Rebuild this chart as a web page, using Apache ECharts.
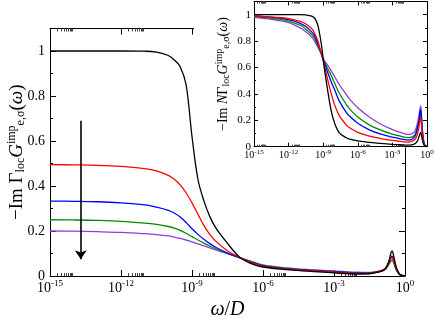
<!doctype html>
<html>
<head>
<meta charset="utf-8">
<title>Im G imp</title>
<script src="https://cdn.jsdelivr.net/npm/echarts@6/dist/echarts.min.js"></script>
<style>
  html, body { margin: 0; padding: 0; background: #fff; }
  #chart { width: 436px; height: 320px; }
</style>
</head>
<body>
<div id="chart"></div>
<script>
// ---- main panel: x is log10(omega/D) ----
var mainLogW = [-15, -14, -13, -12, -11, -10.5, -10, -9.75, -9.5, -9.25, -9, -8.75, -8.5, -8.25, -8,
  -7.5, -7, -6.5, -6, -5, -4, -3, -2, -1.5, -1.1, -0.85, -0.7, -0.6, -0.55, -0.5, -0.42, -0.32, -0.2, 0];
var mainBlack = [1, 1, 1, 1, 0.999, 0.995, 0.98, 0.96, 0.93, 0.85, 0.62, 0.43, 0.335, 0.265, 0.215,
  0.145, 0.085, 0.055, 0.04, 0.028, 0.021, 0.014, 0.009, 0.01, 0.018, 0.03, 0.06, 0.1, 0.112, 0.1, 0.06, 0.025, 0.006, 0];
var mainRed = [0.495, 0.494, 0.492, 0.487, 0.477, 0.467, 0.447, 0.43, 0.405, 0.37, 0.325, 0.275, 0.225, 0.185, 0.155,
  0.112, 0.083, 0.059, 0.043, 0.031, 0.024, 0.017, 0.012, 0.012, 0.02, 0.03, 0.055, 0.078, 0.082, 0.074, 0.045, 0.02, 0.005, 0];
var mainBlue = [0.333, 0.332, 0.33, 0.325, 0.316, 0.306, 0.292, 0.28, 0.262, 0.238, 0.21, 0.185, 0.163, 0.144, 0.128,
  0.102, 0.082, 0.062, 0.045, 0.032, 0.025, 0.019, 0.014, 0.013, 0.02, 0.03, 0.055, 0.08, 0.088, 0.078, 0.047, 0.02, 0.005, 0];
var mainGreen = [0.25, 0.249, 0.247, 0.243, 0.235, 0.229, 0.22, 0.213, 0.203, 0.19, 0.175, 0.16, 0.146, 0.133, 0.121,
  0.1, 0.082, 0.064, 0.047, 0.034, 0.026, 0.02, 0.015, 0.014, 0.02, 0.028, 0.048, 0.065, 0.07, 0.064, 0.04, 0.018, 0.005, 0];
var mainPurple = [0.2, 0.199, 0.197, 0.194, 0.188, 0.184, 0.178, 0.173, 0.167, 0.16, 0.152, 0.143, 0.134, 0.125, 0.116,
  0.099, 0.082, 0.065, 0.049, 0.036, 0.028, 0.022, 0.017, 0.016, 0.022, 0.032, 0.058, 0.082, 0.088, 0.08, 0.05, 0.022, 0.006, 0];

// ---- inset: normalised curves ----
var insetLogW = [-15, -14, -13, -12, -11, -10.5, -10, -9.75, -9.5, -9.3, -9.1, -9, -8.88, -8.6, -8.3, -8, -7.6, -7,
  -6.7, -6, -5, -4, -3, -2.4, -1.6, -1.1, -0.85, -0.7, -0.6, -0.55, -0.5, -0.42, -0.32, -0.2, 0];
var insetBlack = [1, 1, 1, 1, 1, 0.998, 0.99, 0.975, 0.93, 0.85, 0.74, 0.66, 0.58, 0.42, 0.27, 0.175, 0.105, 0.068,
  0.058, 0.044, 0.032, 0.025, 0.018, 0.015, 0.012, 0.02, 0.04, 0.075, 0.1, 0.108, 0.095, 0.06, 0.025, 0.006, 0];
var insetRed = [0.99, 0.986, 0.98, 0.97, 0.95, 0.93, 0.895, 0.86, 0.81, 0.75, 0.69, 0.66, 0.61, 0.505, 0.4, 0.315, 0.235, 0.165,
  0.143, 0.108, 0.08, 0.062, 0.048, 0.042, 0.035, 0.05, 0.09, 0.15, 0.21, 0.22, 0.19, 0.11, 0.045, 0.01, 0];
var insetBlue = [0.99, 0.984, 0.976, 0.963, 0.935, 0.91, 0.87, 0.84, 0.79, 0.745, 0.69, 0.66, 0.63, 0.56, 0.49, 0.43, 0.345, 0.26,
  0.23, 0.178, 0.128, 0.095, 0.072, 0.062, 0.05, 0.07, 0.13, 0.2, 0.265, 0.28, 0.24, 0.14, 0.055, 0.012, 0];
var insetGreen = [0.985, 0.978, 0.968, 0.952, 0.92, 0.89, 0.85, 0.82, 0.775, 0.735, 0.69, 0.66, 0.64, 0.59, 0.54, 0.48, 0.405, 0.32,
  0.285, 0.225, 0.165, 0.125, 0.095, 0.082, 0.068, 0.085, 0.14, 0.195, 0.24, 0.25, 0.22, 0.13, 0.05, 0.012, 0];
var insetPurple = [0.98, 0.97, 0.958, 0.94, 0.9, 0.87, 0.83, 0.8, 0.76, 0.725, 0.685, 0.665, 0.65, 0.615, 0.575, 0.53, 0.47, 0.395,
  0.36, 0.295, 0.225, 0.17, 0.13, 0.11, 0.092, 0.11, 0.17, 0.235, 0.295, 0.31, 0.27, 0.16, 0.065, 0.014, 0];

// tick labels
var xMajor = [-15, -12, -9, -6, -3, 0];
var yMajor = [0, 0.2, 0.4, 0.6, 0.8, 1];
var yMinor = [0.1, 0.3, 0.5, 0.7, 0.9];

// annotation arrows [log10 w, value]
var mainArrow = [[-13.7, 0.69], [-13.7, 0.075]];
var insetArrow = [[-8.78, 0.142], [-4.88, 0.3]];

var colors = ['#8f3fd6', '#008b00', '#0000ff', '#ff0000', '#000000'];
var serif = 'Liberation Serif';

// minor log ticks: 2..9 after each labelled decade
var xMinor = [];
xMajor.slice(0, -1).forEach(function (m) {
  for (var k = 2; k <= 9; k++) xMinor.push(m + Math.log10(k));
});

function pts(xs, ys) {
  return xs.map(function (e, i) { return [Math.pow(10, e), ys[i]]; });
}

var blank = { show: false };

function xAxes(gi, pos, len, minLen, label) {
  var base = { type: 'value', gridIndex: gi, position: pos, min: -15, max: 0, z: gi ? 20 : 0,
    splitLine: blank };
  var major = Object.assign({}, base, {
    axisLine: { show: true, onZero: false, lineStyle: { color: '#000', width: 1 } },
    axisTick: { show: true, inside: true, length: len, customValues: xMajor, lineStyle: { color: '#000' } },
    axisLabel: label ? label : { show: false }
  });
  var minor = Object.assign({}, base, {
    axisLine: { show: false, onZero: false },
    axisTick: { show: true, inside: true, length: minLen, customValues: xMinor, lineStyle: { color: '#444' } },
    axisLabel: { show: false }
  });
  return [major, minor];
}

function yAxes(gi, pos, len, minLen, label) {
  var base = { type: 'value', gridIndex: gi, position: pos, min: 0, max: 1.1, z: gi ? 20 : 0,
    splitLine: blank };
  var major = Object.assign({}, base, {
    axisLine: { show: true, onZero: false, lineStyle: { color: '#000', width: 1 } },
    axisTick: { show: true, inside: true, length: len, customValues: yMajor, lineStyle: { color: '#000' } },
    axisLabel: label ? label : { show: false }
  });
  var minor = Object.assign({}, base, {
    axisLine: { show: false, onZero: false },
    axisTick: { show: true, inside: true, length: minLen, customValues: yMinor, lineStyle: { color: '#000' } },
    axisLabel: { show: false }
  });
  return [major, minor];
}

function expLabel(size, supSize, margin) {
  return {
    show: true, margin: margin, customValues: xMajor, color: '#000', fontFamily: serif, fontSize: size,
    formatter: function (v) { return '10{s|' + v + '}'; },
    rich: { s: { fontFamily: serif, fontSize: supSize, color: '#000', padding: [0, 0, supSize, 0] } }
  };
}

function numLabel(size, margin) {
  return { show: true, margin: margin, customValues: yMajor, color: '#000', fontFamily: serif, fontSize: size };
}

var mainX = [{ type: 'log', gridIndex: 0, min: 1e-15, max: 1, show: false }]
  .concat(xAxes(0, 'bottom', 6, 3, expLabel(14, 9, 3)), xAxes(0, 'top', 6, 3, null));
var insetX = [{ type: 'log', gridIndex: 1, min: 1e-15, max: 1, show: false }]
  .concat(xAxes(1, 'bottom', 4, 2, expLabel(10, 7, 2)), xAxes(1, 'top', 4, 2, null));
var mainY = yAxes(0, 'left', 6, 3, numLabel(14, 5)).concat(yAxes(0, 'right', 6, 3, null));
var insetY = yAxes(1, 'left', 4, 2, numLabel(11, 3)).concat(yAxes(1, 'right', 4, 2, null));

// axis titles
mainX[1].name = '{it|ω}/{it|D}';
mainX[1].nameLocation = 'middle';
mainX[1].nameGap = 17;
mainX[1].nameTextStyle = { fontFamily: serif, fontSize: 20, color: '#000',
  rich: { it: { fontFamily: serif, fontStyle: 'italic', fontSize: 20, color: '#000' } } };

function gName(size, sub, prefix) {
  return {
    text: '−Im ' + prefix + 'Γ{sub|loc}{it|G}{sup|imp}{sub|e,σ}({it|ω})',
    style: { fontFamily: serif, fontSize: size, color: '#000',
      rich: {
        it: { fontFamily: serif, fontStyle: 'italic', fontSize: size, color: '#000' },
        sub: { fontFamily: serif, fontSize: sub, color: '#000', padding: [Math.round(sub * 0.7), 0, 0, 0] },
        sup: { fontFamily: serif, fontSize: sub, color: '#000', padding: [0, 0, Math.round(sub * 0.8), 0] }
      } }
  };
}
var mn = gName(19, 12, '');
mainY[0].name = mn.text;
mainY[0].nameLocation = 'middle';
mainY[0].nameGap = 22;
mainY[0].nameMoveOverlap = false;
mainY[0].nameTextStyle = mn.style;
var inn = gName(14, 10, '{it|N}');
insetY[0].name = inn.text;
insetY[0].nameLocation = 'middle';
insetY[0].nameGap = 22;
insetY[0].nameTextStyle = inn.style;

// axis index bookkeeping: mainX 0..4, insetX 5..9, mainY 0..3, insetY 4..7
function makeSeries(xs, list, xi, yi, z, width) {
  return list.map(function (ys, i) {
    return {
      type: 'line', xAxisIndex: xi, yAxisIndex: yi, z: z,
      data: pts(xs, ys), showSymbol: false, symbol: 'none', smooth: 0.35,
      lineStyle: { color: colors[i], width: width }, itemStyle: { color: colors[i] },
      silent: true, animation: false
    };
  });
}

var series = makeSeries(mainLogW, [mainPurple, mainGreen, mainBlue, mainRed, mainBlack], 0, 0, 2, 1.3)
  .concat(makeSeries(insetLogW, [insetPurple, insetGreen, insetBlue, insetRed, insetBlack], 5, 4, 20, 1.3));

function arrowLine(a, size) {
  return {
    silent: true, animation: false, symbol: ['none', 'arrow'], symbolSize: size,
    label: { show: false },
    lineStyle: { color: '#000', width: 1.6, type: 'solid' },
    data: [[{ coord: [Math.pow(10, a[0][0]), a[0][1]] }, { coord: [Math.pow(10, a[1][0]), a[1][1]] }]]
  };
}
series[4].markLine = arrowLine(mainArrow, 9);
series[9].markLine = arrowLine(insetArrow, 9);

var chart = echarts.init(document.getElementById('chart'), null, { renderer: 'canvas' });
chart.setOption({
  animation: false,
  backgroundColor: '#fff',
  grid: [
    { left: 50, top: 28.5, width: 355, height: 247.5, outerBoundsMode: 'none' },
    { left: 254, top: 1.5, width: 173, height: 145.2, outerBoundsMode: 'none' }
  ],
  xAxis: mainX.concat(insetX),
  yAxis: mainY.concat(insetY),
  graphic: { elements: [{
    type: 'polygon', z: 10, silent: true,
    shape: { points: [[194, 0], [436, 0], [436, 147.5], [204, 147.5], [204, 118], [194, 118]] },
    style: { fill: '#fff' }
  }] },
  series: series
});
</script>
</body>
</html>
